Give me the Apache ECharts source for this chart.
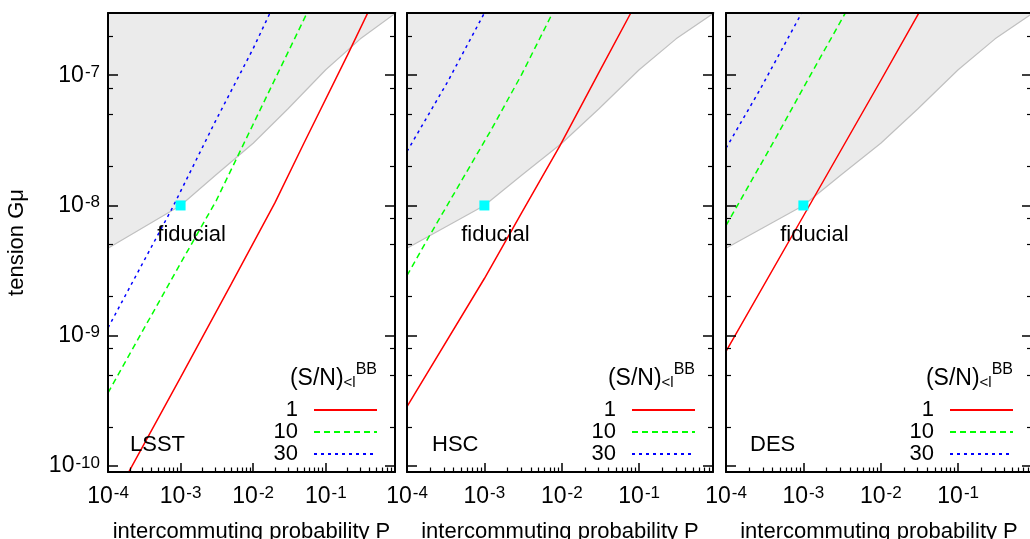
<!DOCTYPE html>
<html>
<head>
<meta charset="utf-8">
<title>Gmu vs P</title>
<script src="https://cdn.jsdelivr.net/npm/echarts@6.0.0/dist/echarts.min.js"></script>
<style>
html, body { margin: 0; padding: 0; background: #fff; }
#chart { width: 1030px; height: 539px; }
</style>
</head>
<body>
<div id="chart"></div>
<script>
// axis ranges and ticks
var pMin = 1e-4, pMax = 0.9;
var gMin = 9e-11, gMax = 3e-7;
var pTicks = [1e-4, 1e-3, 1e-2, 1e-1];
var pMinorTicks = [2e-4, 3e-4, 4e-4, 5e-4, 6e-4, 7e-4, 8e-4, 9e-4,
                   2e-3, 3e-3, 4e-3, 5e-3, 6e-3, 7e-3, 8e-3, 9e-3,
                   2e-2, 3e-2, 4e-2, 5e-2, 6e-2, 7e-2, 8e-2, 9e-2,
                   0.2, 0.3, 0.4, 0.5, 0.6, 0.7, 0.8];
var gTicks = [1e-10, 1e-9, 1e-8, 1e-7];
var gMinorTicks = [2e-10, 5e-10, 8e-10, 2e-9, 5e-9, 8e-9, 2e-8, 5e-8, 8e-8, 2e-7];

var surveys = ['LSST', 'HSC', 'DES'];
var snLevels = ['1', '10', '30'];

// grey excluded region, lower edge [P, Gmu] (same in each panel)
var excludedEdge = [[1e-4, 4.7e-9], [1e-3, 1.0e-8], [3e-3, 1.7e-8], [1e-2, 3.0e-8],
                    [3e-2, 5.5e-8], [1e-1, 1.1e-7], [3e-1, 1.9e-7], [1, 3.1e-7]];

// (S/N) = 1, 10, 30 curves, [P, Gmu]
var lsstSN1  = [[1.7e-4, 7.9e-11], [1e-3, 4.8e-10], [5e-3, 2.5e-9], [2e-2, 1.05e-8], [5e-2, 3.0e-8], [0.2, 1.43e-7], [0.4, 3.2e-7]];
var lsstSN10 = [[1e-4, 3.65e-10], [1e-3, 3.6e-9], [3.1e-3, 1.09e-8], [1e-2, 4.2e-8], [6e-2, 3.3e-7]];
var lsstSN30 = [[1e-4, 1.15e-9], [7.8e-4, 9.7e-9], [3e-3, 4.4e-8], [1e-2, 1.6e-7], [1.8e-2, 3.2e-7]];

var hscSN1  = [[1e-4, 2.86e-10], [1e-3, 2.75e-9], [3e-3, 8.7e-9], [9.4e-3, 2.85e-8], [3e-2, 1.04e-7], [7.8e-2, 3.0e-7], [9e-2, 3.5e-7]];
var hscSN10 = [[1e-4, 2.9e-9], [2e-4, 6.0e-9], [1.2e-3, 3.73e-8], [3e-3, 1.0e-7], [7.6e-3, 3.0e-7], [8e-3, 3.2e-7]];
var hscSN30 = [[1e-4, 2.6e-8], [3.3e-4, 8.75e-8], [1e-3, 3.0e-7], [1.05e-3, 3.2e-7]];

var desSN1  = [[1e-4, 7.6e-10], [1e-3, 8.3e-9], [1e-2, 9.1e-8], [3.4e-2, 3.3e-7]];
var desSN10 = [[1e-4, 7.0e-9], [4.4e-4, 3.3e-8], [1e-3, 8.0e-8], [3.7e-3, 3.2e-7]];
var desSN30 = [[1e-4, 2.75e-8], [2.7e-4, 7.6e-8], [9.5e-4, 3.0e-7], [1e-3, 3.2e-7]];

var fiducial = [1e-3, 1e-8];

var curves = [[lsstSN1, lsstSN10, lsstSN30], [hscSN1, hscSN10, hscSN30], [desSN1, desSN10, desSN30]];

var FONT = 'Liberation Sans';
var lineColors = ['#ff0000', '#00ff00', '#0000ff'];
var lineTypes = ['solid', [6, 4], [3, 4]];

var powRich = {
    b: { fontSize: 23, lineHeight: 23, verticalAlign: 'bottom', color: '#000', fontFamily: FONT },
    s: { fontSize: 17, lineHeight: 10, verticalAlign: 'top', color: '#000', fontFamily: FONT, padding: [0, 0, 0, 1] }
};
function powLabel(v) {
    var e = Math.round(Math.log10(v));
    return '{b|10}{s|' + e + '}';
}

var gridPos = [
    { left: 108, width: 287 },
    { left: 407, width: 306 },
    { left: 726, width: 306 }
];
var legendRight = [652, 334, 16];
var labelLeft = [130, 432, 750];

var myChart = echarts.init(document.getElementById('chart'));
var option;

var grids = [], xAxes = [], yAxes = [], series = [], legends = [], titles = [];
var frame = { show: true, onZero: false, lineStyle: { color: '#000', width: 2 } };

for (var i = 0; i < 3; i++) {
    grids.push({
        left: gridPos[i].left, top: 13, width: gridPos[i].width, height: 459,
        show: false, outerBoundsMode: 'none'
    });

    // x axes: major ticks + labels, minor ticks, plain top edge
    xAxes.push({
        type: 'log', gridIndex: i, min: pMin, max: pMax, position: 'bottom', z: 10,
        axisLine: frame,
        axisTick: { show: true, inside: true, length: 9, customValues: pTicks, lineStyle: { color: '#000', width: 1.5 } },
        axisLabel: { show: true, customValues: pTicks, margin: 13, fontSize: 23, color: '#000', formatter: powLabel, rich: powRich },
        splitLine: { show: false },
        name: 'intercommuting probability P',
        nameLocation: 'middle', nameGap: 49,
        nameTextStyle: { fontSize: 22, color: '#000', fontFamily: FONT }
    });
    xAxes.push({
        type: 'log', gridIndex: i, min: pMin, max: pMax, position: 'bottom', z: 10,
        axisLine: { show: false, onZero: false },
        axisTick: { show: true, inside: true, length: 4.5, customValues: pMinorTicks, lineStyle: { color: '#000', width: 1.2 } },
        axisLabel: { show: false },
        splitLine: { show: false }
    });
    xAxes.push({
        type: 'log', gridIndex: i, min: pMin, max: pMax, position: 'top', z: 10,
        axisLine: frame,
        axisTick: { show: false },
        axisLabel: { show: false },
        splitLine: { show: false }
    });

    // y axes: left / right, major / minor
    ['left', 'right'].forEach(function (pos) {
        var yMain = {
            type: 'log', gridIndex: i, min: gMin, max: gMax, position: pos, z: 10,
            axisLine: frame,
            axisTick: { show: true, inside: true, length: 10, customValues: gTicks, lineStyle: { color: '#000', width: 1.5 } },
            axisLabel: { show: false },
            splitLine: { show: false }
        };
        if (i === 0 && pos === 'left') {
            yMain.axisLabel = { show: true, customValues: gTicks, margin: 8, fontSize: 23, color: '#000', formatter: powLabel, rich: powRich };
            yMain.name = 'tension G\u03bc';
            yMain.nameLocation = 'middle';
            yMain.nameGap = 80;
            yMain.nameTextStyle = { fontSize: 22, color: '#000', fontFamily: FONT };
        }
        yAxes.push(yMain);
        yAxes.push({
            type: 'log', gridIndex: i, min: gMin, max: gMax, position: pos, z: 10,
            axisLine: { show: false, onZero: false },
            axisTick: { show: true, inside: true, length: 5, customValues: gMinorTicks, lineStyle: { color: '#000', width: 1.2 } },
            axisLabel: { show: false },
            splitLine: { show: false }
        });
    });

    var xi = 3 * i, yi = 4 * i;

    series.push({
        name: 'excluded ' + surveys[i],
        type: 'line', xAxisIndex: xi, yAxisIndex: yi,
        data: excludedEdge, symbol: 'none', silent: true, z: 1,
        lineStyle: { color: '#c0c0c0', width: 1.2 },
        areaStyle: { color: '#ebebeb', opacity: 1, origin: 'end' }
    });

    for (var k = 0; k < 3; k++) {
        series.push({
            name: snLevels[k],
            type: 'line', xAxisIndex: xi, yAxisIndex: yi,
            data: curves[i][k], symbol: 'none', z: 3,
            lineStyle: { color: lineColors[k], width: 1.5, type: lineTypes[k] },
            itemStyle: { color: lineColors[k] }
        });
    }

    series.push({
        name: 'fiducial ' + surveys[i],
        type: 'scatter', xAxisIndex: xi, yAxisIndex: yi,
        data: [fiducial], symbol: 'rect', symbolSize: 10, z: 4,
        itemStyle: { color: '#00ffff', opacity: 1 },
        label: {
            show: true, formatter: 'fiducial', position: 'bottom', distance: 13, offset: [11, 0],
            fontSize: 22, color: '#000', opacity: 1, fontFamily: FONT
        }
    });

    legends.push({
        data: snLevels,
        orient: 'vertical', align: 'right',
        right: legendRight[i], top: 399, padding: 0,
        itemWidth: 63, itemHeight: 14, itemGap: 0,
        selectedMode: false,
        itemStyle: { opacity: 0, color: 'rgba(0,0,0,0)', borderWidth: 0 },
        textStyle: { fontSize: 22, lineHeight: 22, color: '#000', fontFamily: FONT, padding: [0, 11, 0, 0] }
    });

    titles.push({
        text: '{b|(S/N)}{sub|<l}{sup|BB}',
        right: legendRight[i] + 1, top: 362, padding: 0,
        textStyle: {
            fontWeight: 'normal',
            rich: {
                b: { fontSize: 23, lineHeight: 28, verticalAlign: 'bottom', fontWeight: 'normal', color: '#000', fontFamily: FONT },
                sub: { fontSize: 15, lineHeight: 12, verticalAlign: 'bottom', fontWeight: 'normal', color: '#000', fontFamily: FONT },
                sup: { fontSize: 16, lineHeight: 12, verticalAlign: 'top', fontWeight: 'normal', color: '#000', fontFamily: FONT }
            }
        }
    });
    titles.push({
        text: surveys[i],
        left: labelLeft[i], top: 434, padding: 0,
        textStyle: { fontSize: 22, fontWeight: 'normal', color: '#000', fontFamily: FONT }
    });
}

option = {
    animation: false,
    backgroundColor: '#fff',
    textStyle: { fontFamily: FONT },
    title: titles,
    legend: legends,
    grid: grids,
    xAxis: xAxes,
    yAxis: yAxes,
    series: series
};

option && myChart.setOption(option);
</script>
</body>
</html>
